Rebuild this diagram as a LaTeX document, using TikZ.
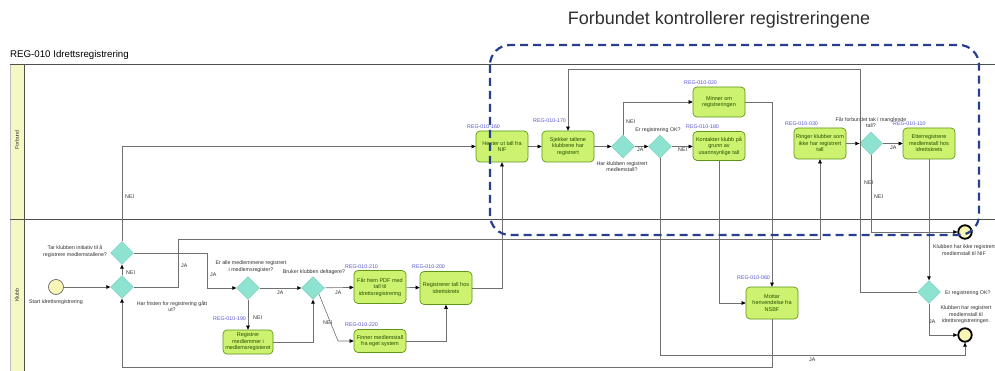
\documentclass[tikz,border=0pt]{standalone}
\usepackage{fontspec}
\setmainfont{Liberation Sans}
\usetikzlibrary{arrows.meta,shapes.geometric}

\definecolor{taskfill}{RGB}{204,242,112}
\definecolor{taskline}{RGB}{96,150,24}
\definecolor{tasktext}{RGB}{40,78,0}
\definecolor{gwfill}{RGB}{142,226,208}
\definecolor{gwline}{RGB}{112,204,186}
\definecolor{evfill}{RGB}{248,246,182}
\definecolor{startline}{RGB}{90,90,90}
\definecolor{flowgray}{RGB}{112,112,112}
\definecolor{idblue}{RGB}{84,84,204}
\definecolor{labeltext}{RGB}{48,48,48}
\definecolor{lanefill}{RGB}{246,248,196}
\definecolor{laneline}{RGB}{80,80,80}
\definecolor{groupblue}{RGB}{40,62,142}
\definecolor{headtext}{RGB}{48,48,48}

\newcommand{\bpmnsmall}{\fontsize{5.3}{6.4}\selectfont}
\newcommand{\bpmntask}{\fontsize{5.5}{6.5}\selectfont}

\begin{document}
\begin{tikzpicture}[x=1pt,y=-1pt,
  task/.style={draw=taskline, fill=taskfill, rounded corners=4pt, line width=0.7pt,
    minimum width=52pt, minimum height=31pt, inner sep=1pt, align=center,
    text=tasktext, font=\bpmntask},
  gate/.style={diamond, draw=gwline, fill=gwfill, minimum width=23pt,
    minimum height=23pt, inner sep=0pt},
  startev/.style={circle, draw=startline, fill=evfill, line width=0.6pt,
    minimum size=15pt, inner sep=0pt},
  endev/.style={circle, draw=black, fill=evfill, line width=1.8pt,
    minimum size=13.5pt, inner sep=0pt},
  flow/.style={draw=flowgray, line width=0.6pt},
  fa/.style={flow, -{Triangle[length=4pt,width=3.6pt,color=black]}},
  taskid/.style={font=\bpmnsmall, text=idblue, anchor=west, inner sep=0pt},
  gatetext/.style={font=\bpmnsmall, text=labeltext, align=center, inner sep=0pt},
  flowlbl/.style={font=\bpmnsmall, text=labeltext, inner sep=0pt, anchor=west},
  lanebd/.style={draw=laneline, line width=0.8pt},
  groupbd/.style={draw=groupblue, line width=2.2pt, dash pattern=on 8pt off 5pt,
    rounded corners=20pt}
]
\useasboundingbox (0,0) rectangle (995,371);
\clip (0,0) rectangle (995,371);
\fill[white] (0,0) rectangle (995,371);

% headings
\node[font=\fontsize{18}{21}\selectfont, text=headtext] (heading) at (719,20)
  {Forbundet kontrollerer registreringene};
\node[font=\fontsize{9.7}{11}\selectfont, anchor=west, inner sep=0pt] (title) at (10,55)
  {REG-010 Idrettsregistrering};

% pool and lanes
\fill[lanefill] (10,64) rectangle (24,371);
\draw[draw=black!25, line width=0.5pt] (10,64) -- (10,371);
\draw[lanebd] (10,64) -- (995,64);
\draw[lanebd] (10,219) -- (995,219);
\draw[lanebd] (24,64) -- (24,371);
\node[rotate=90, font=\bpmnsmall, text=labeltext] (laneF) at (17,140) {Forbund};
\node[rotate=90, font=\bpmnsmall, text=labeltext] (laneK) at (17,295) {Klubb};

% tasks
\node[task] (henter) at (502,146.5) {Henter ut tall fra\\NIF};
\node[task] (sjekker) at (568,146.5) {Sjekker tallene\\klubbene har\\registrert};
\node[task, minimum height=30pt] (minner) at (719,102) {Minner om\\registreringen};
\node[task, minimum height=29pt] (kontakter) at (719,146) {Kontakter klubb på\\grunn av\\usannsynlige tall};
\node[task] (ringer) at (820,143.5) {Ringer klubber som\\ikke har registrert\\tall};
\node[task] (etter) at (929,143.5) {Etterregistrere\\medlemstall hos\\idrettskrets};
\node[task, minimum height=32pt] (mottar) at (772,303) {Mottar\\henvendelse fra\\NSBF};
\node[task, minimum height=33pt] (faar) at (380,287) {Får frem PDF med\\tall til\\idrettsregistrering};
\node[task, minimum height=33pt] (regtall) at (446,288) {Registrerer tall hos\\idrettskrets};
\node[task, minimum width=50pt, minimum height=24pt] (regmedl) at (248,342) {Registrer\\medlemmer i\\medlemsregisteret};
\node[task, minimum height=23pt] (finner) at (380,341) {Finner medlemstall\\fra eget system};

% task ids
\node[taskid] (id160) at (467,127) {REG-010-160};
\node[taskid] (id170) at (533,121) {REG-010-170};
\node[taskid] (id020) at (684,83) {REG-010-020};
\node[taskid] (id180) at (686,127) {REG-010-180};
\node[taskid] (id030) at (785,124) {REG-010-030};
\node[taskid] (id110) at (893,124) {REG-010-110};
\node[taskid] (id060) at (737,278) {REG-010-060};
\node[taskid] (id210) at (345,267) {REG-010-210};
\node[taskid] (id200) at (412,267) {REG-010-200};
\node[taskid] (id190) at (213,319) {REG-010-190};
\node[taskid] (id220) at (345,325) {REG-010-220};

% gateways
\node[gate] (gwInit) at (122,253) {};
\node[gate] (gwFrist) at (122,287) {};
\node[gate] (gw3) at (248,288) {};
\node[gate] (gw4) at (313,288) {};
\node[gate] (gwReg) at (623,146.5) {};
\node[gate] (gwOk) at (660,146.5) {};
\node[gate] (gwTak) at (871,143.5) {};
\node[gate] (gwOkB) at (929,292) {};

% events
\node[startev] (start) at (56,287) {};
\node[endev] (end1) at (965,232) {};
\node[endev] (end2) at (965,335) {};

% gateway and event texts
\node[gatetext] (tInit) at (75,251.5) {Tar klubben initiativ til å\\registrere medlemstallene?};
\node[gatetext] (tFrist) at (172,306.5) {Har fristen for registrering gått\\ut?};
\node[gatetext] (t3) at (251,266.5) {Er alle medlemmene registrert\\i medlemsregister?};
\node[gatetext] (t4) at (314,272) {Bruker klubben deltagere?};
\node[gatetext] (tReg) at (622,166.5) {Har klubben registrert\\medlemstall?};
\node[gatetext] (tOk) at (658,130) {Er registrering OK?};
\node[gatetext] (tTak) at (871,122.5) {Får forbundet tak i manglende\\tall?};
\node[gatetext, anchor=west] (tOkB) at (945,293) {Er registrering OK?};
\node[gatetext] (tStart) at (56,302) {Start idrettsregistrering};
\node[gatetext] (tEnd1) at (964,250) {Klubben har ikke registrert\\medlemstall til NIF};
\node[gatetext] (tEnd2) at (966,315) {Klubben har registrert\\medlemstall til\\idrettsregistreringen.};

% routing points
\coordinate (jInit) at (207,253);
\coordinate (jFristA) at (178,239);
\coordinate (jFristB) at (820,239);
\coordinate (jNei4) at (338,341);
\coordinate (jOk) at (965,355);
\coordinate (jLoop) at (122,367);
\coordinate (jBack) at (860,69);

% sequence flows, Klubb lane
\draw[fa] (start) -- (gwFrist);
\draw[fa] (gwFrist) -- (gwInit);
\draw[fa] (gwInit.north) |- (henter.west);
\draw[fa] (gwInit.east) -- (jInit) |- (gw3.west);
\draw[fa] (gwFrist.east) -| (jFristA) -- (jFristB) -- (ringer.south);
\draw[fa] (gw3) -- (gw4);
\draw[fa] (gw3) -- (regmedl);
\draw[fa] (regmedl.east) -| (gw4.south);
\draw[fa] (gw4) -- (faar);
\draw[fa] (gw4.south east) -- (jNei4) -- (finner.west);
\draw[fa] (faar) -- (regtall);
\draw[fa] (finner.east) -| (regtall.south);
\draw[fa] (regtall.east) -| (henter.south);

% sequence flows, Forbund lane
\draw[fa] (henter) -- (sjekker);
\draw[fa] (sjekker) -- (gwReg);
\draw[fa] (gwReg.north) |- (minner.west);
\draw[fa] (gwReg) -- (gwOk);
\draw[fa] (gwOk.east) -- (gwOk.east -| kontakter.west);
\draw[fa] (gwOk.south) |- (jOk) -- (end2.south);
\draw[fa] (minner.east) -| (mottar.north);
\draw[fa] (kontakter.south) |- (mottar.west);
\draw[fa] (mottar.south) |- (jLoop) -- (gwFrist.south);
\draw[fa] (ringer) -- (gwTak);
\draw[fa] (gwTak) -- (etter);
\draw[fa] (gwTak.south) |- (end1.west);
\draw[fa] (etter) -- (gwOkB);
\draw[fa] (gwOkB.west) -| (jBack) -| (sjekker.north);
\draw[fa] (gwOkB.south) |- (end2.west);

% flow labels
\node[flowlbl] (lA) at (125,197) {NEI};
\node[flowlbl] (lB) at (126,273) {NEI};
\node[flowlbl] (lC) at (181,266) {JA};
\node[flowlbl] (lD) at (210,275) {JA};
\node[flowlbl] (lE) at (277,293) {JA};
\node[flowlbl] (lF) at (253,318) {NEI};
\node[flowlbl] (lG) at (335,293) {JA};
\node[flowlbl] (lH) at (323,323) {NEI};
\node[flowlbl] (lI) at (626,122) {NEI};
\node[flowlbl] (lJ) at (637,150) {JA};
\node[flowlbl] (lK) at (678,150) {NEI};
\node[flowlbl] (lL) at (890,148) {JA};
\node[flowlbl] (lM) at (864,183) {NEI};
\node[flowlbl] (lN) at (874,197) {NEI};
\node[flowlbl] (lO) at (809,360) {JA};
\node[flowlbl] (lP) at (929,322) {JA};

% group drawn by the federation's checks
\draw[groupbd] (490,45) rectangle (979,235);
\end{tikzpicture}
\end{document}
